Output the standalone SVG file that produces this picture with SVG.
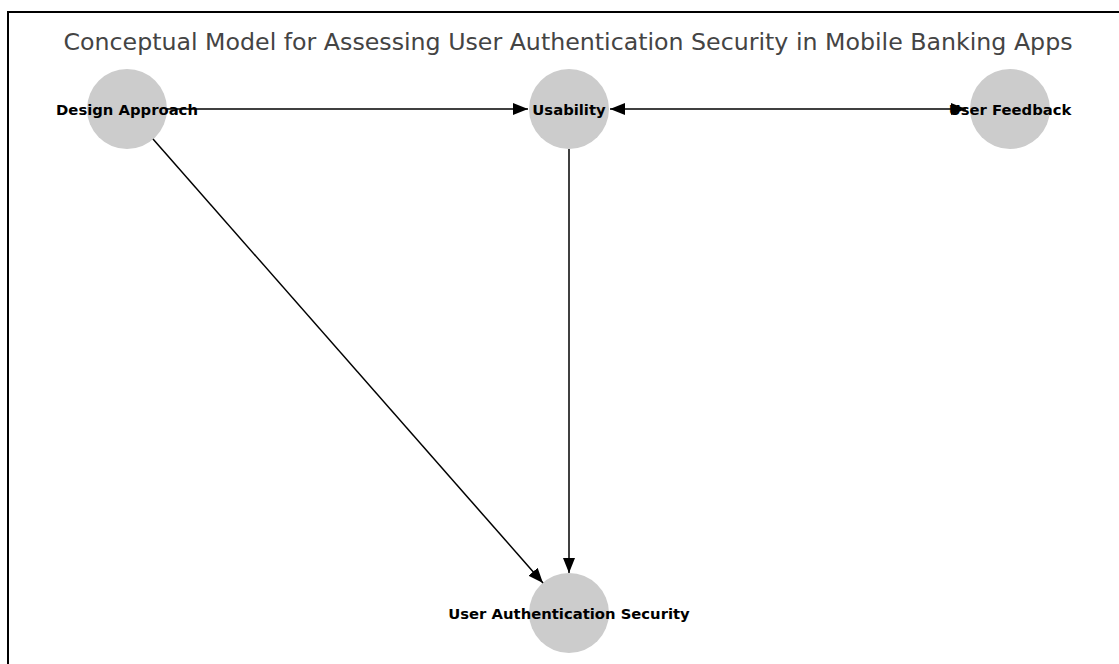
<svg xmlns="http://www.w3.org/2000/svg" width="1119" height="664" viewBox="0 0 1119 664">
<style>
.node circle{fill:#cccccc;stroke:none}
.node text{font-family:"DejaVu Sans",sans-serif;font-weight:bold;font-size:14.8px;fill:#000;text-anchor:middle}
.edge{stroke:#000;stroke-width:1.5;fill:none}
.title{font-family:"DejaVu Sans",sans-serif;font-size:23.7px;fill:#444;text-anchor:middle}
</style>
<defs>
<marker id="ah" viewBox="0 0 15 12" refX="15" refY="6" markerWidth="15" markerHeight="12" markerUnits="userSpaceOnUse" orient="auto">
<path d="M0,0 L15,6 L0,12 Z" fill="#000"/>
</marker>
<marker id="ahs" viewBox="0 0 15 12" refX="15" refY="6" markerWidth="15" markerHeight="12" markerUnits="userSpaceOnUse" orient="auto-start-reverse">
<path d="M0,0 L15,6 L0,12 Z" fill="#000"/>
</marker>
</defs>
<rect x="0" y="0" width="1119" height="664" fill="#fff"/>
<rect x="8" y="12" width="1130" height="670" fill="none" stroke="#000" stroke-width="2"/>
<text class="title" x="568" y="50">Conceptual Model for Assessing User Authentication Security in Mobile Banking Apps</text>
<g id="n-design" class="node"><circle cx="127" cy="109" r="40"/></g>
<g id="n-usability" class="node"><circle cx="569" cy="109" r="40"/></g>
<g id="n-feedback" class="node"><circle cx="1010" cy="109" r="40"/></g>
<g id="n-uas" class="node"><circle cx="569" cy="613" r="40"/></g>
<g id="connectors">
<line class="edge" x1="167" y1="109" x2="528" y2="109" marker-end="url(#ah)"/>
<line class="edge" x1="610" y1="109" x2="966" y2="109" marker-start="url(#ahs)" marker-end="url(#ah)"/>
<line class="edge" x1="569" y1="149" x2="569" y2="573" marker-end="url(#ah)"/>
<line class="edge" x1="153" y1="139" x2="543" y2="583" marker-end="url(#ah)"/>
</g>
<g class="node"><text x="127" y="114.5">Design Approach</text></g>
<g class="node"><text x="569" y="114.5">Usability</text></g>
<g class="node"><text x="1010" y="114.5">User Feedback</text></g>
<g class="node"><text x="569" y="618.5">User Authentication Security</text></g>
</svg>
